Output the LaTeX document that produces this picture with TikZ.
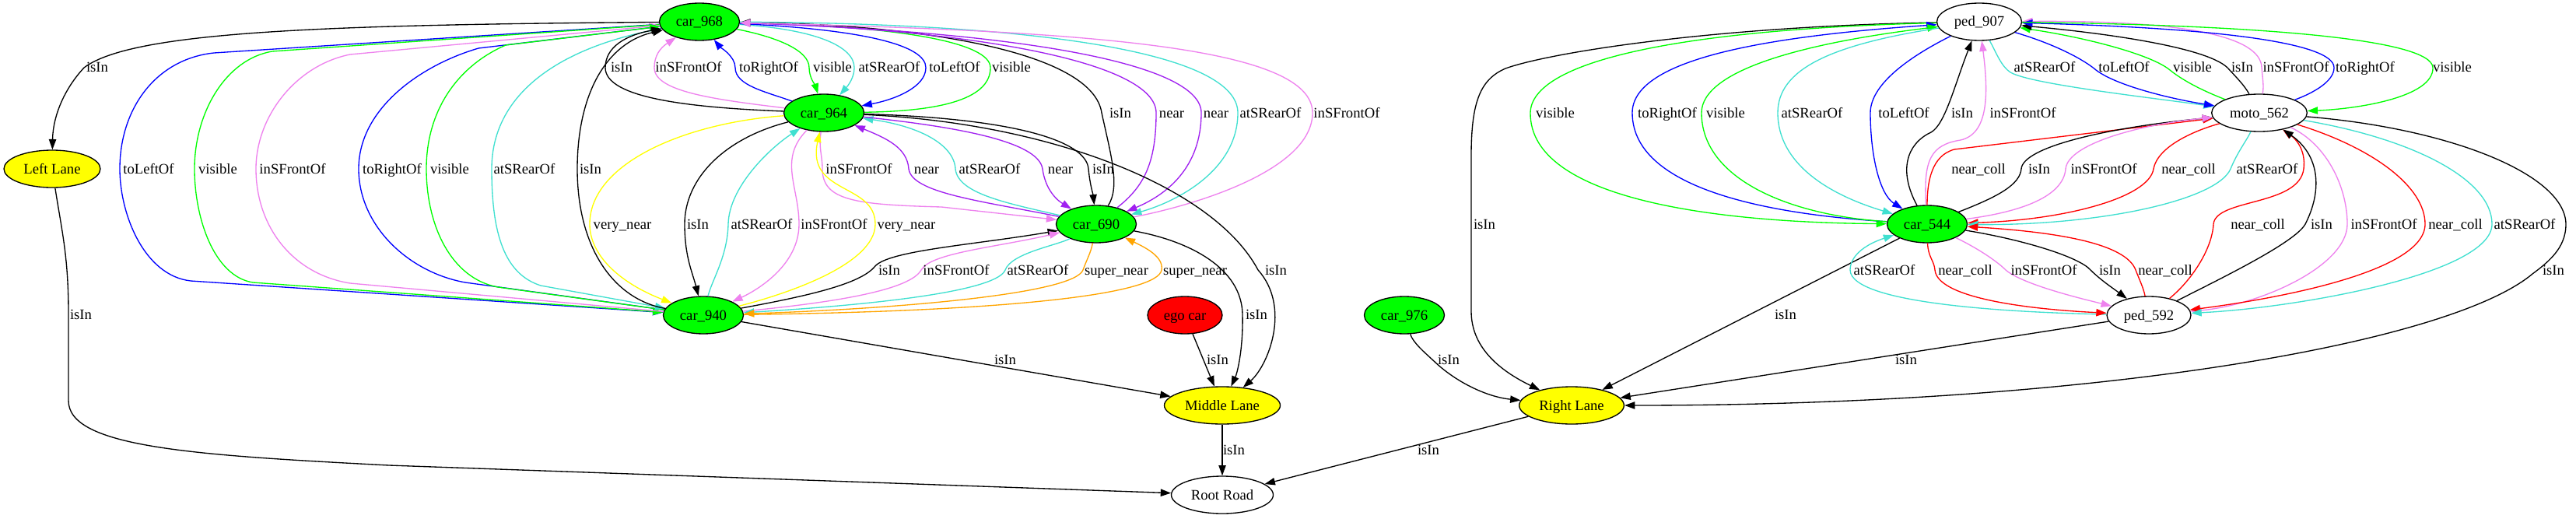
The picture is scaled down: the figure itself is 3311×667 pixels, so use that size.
\documentclass[tikz,border=0pt]{standalone}
\usepackage{fontspec}
\setmainfont{Liberation Serif}
\usetikzlibrary{arrows.meta,shapes.geometric}
\definecolor{gvgreen}{HTML}{00FF00}
\definecolor{gvviolet}{HTML}{EE82EE}
\definecolor{gvturq}{HTML}{40E0D0}
\definecolor{gvpurple}{HTML}{A020F0}
\definecolor{gvyellow}{HTML}{FFFF00}
\definecolor{gvorange}{HTML}{FFA500}
\definecolor{gvred}{HTML}{FF0000}
\definecolor{gvblue}{HTML}{0000FF}
\tikzset{
  gnode/.style={ellipse, draw=black, line width=1pt, inner sep=0pt, minimum height=36pt,
    font=\fontsize{14}{16}\selectfont, text height=10pt, text depth=1pt},
  lbl/.style={inner sep=0pt, text=black, font=\fontsize{14}{16}\selectfont, text height=10pt, text depth=1pt},
  fw/.style={line width=1pt, -{Triangle[length=10pt,width=7pt]}},
  bw/.style={line width=1pt, {Triangle[length=10pt,width=7pt]}-},
  cb/.style={draw=gvblue}, cg/.style={draw=gvgreen}, cv/.style={draw=gvviolet},
  ct/.style={draw=gvturq}, cp/.style={draw=gvpurple}, cy/.style={draw=gvyellow},
  co/.style={draw=gvorange}, cr/.style={draw=gvred}
}
\begin{document}
\begin{tikzpicture}[x=0.75pt,y=-0.75pt]
\fill[white] (0,0) rectangle (3311,667);
\useasboundingbox (0,0) rectangle (3311,667);
% nodes
\node[gnode, fill=gvgreen, minimum width=77.25pt] (car968) at (899,28) {car\_968};
\node[gnode, fill=gvgreen, minimum width=77.25pt] (car964) at (1059,145) {car\_964};
\node[gnode, fill=gvgreen, minimum width=77.25pt] (car690) at (1409,288) {car\_690};
\node[gnode, fill=gvgreen, minimum width=77.25pt] (car940) at (904,405) {car\_940};
\node[gnode, fill=gvyellow, minimum width=93pt] (leftlane) at (67,217) {Left Lane};
\node[gnode, fill=gvred, minimum width=72pt] (ego) at (1523,405) {ego car};
\node[gnode, fill=gvyellow, minimum width=111.75pt] (middle) at (1571,521) {Middle Lane};
\node[gnode, fill=white, minimum width=98.25pt] (root) at (1571,636) {Root Road};
\node[gnode, fill=gvgreen, minimum width=77.25pt] (car976) at (1805,405) {car\_976};
\node[gnode, fill=gvyellow, minimum width=101pt] (right) at (2020,521) {Right Lane};
\node[gnode, fill=white, minimum width=81.75pt] (ped907) at (2544,28) {ped\_907};
\node[gnode, fill=white, minimum width=92pt] (moto) at (2904,145) {moto\_562};
\node[gnode, fill=gvgreen, minimum width=77.25pt] (car544) at (2477,288) {car\_544};
\node[gnode, fill=white, minimum width=81pt] (ped592) at (2762,405) {ped\_592};

% ---- left cluster ----
\draw[fw] (car968) .. controls (420,32) and (170,40) .. (108,87) .. controls (82,115) and (68,150) .. (leftlane) node[lbl] at (125,87) {isIn};
\draw[fw] (leftlane) .. controls (80,300) and (88,330) .. (88,404) -- (88,515) .. controls (88,575) and (250,585) .. (500,598) -- (root) node[lbl] at (104,404) {isIn};

% car968 <-> car940
\draw[fw,cb] (car968) -- (275,68) .. controls (200,76) and (154,140) .. (154,217) .. controls (154,275) and (185,354) .. (245,361) -- (car940) node[lbl] at (191,217) {toLeftOf};
\draw[fw,cg] (car968) -- (350,66) .. controls (290,76) and (250,145) .. (250,217) .. controls (250,280) and (275,355) .. (325,363) -- (car940) node[lbl] at (280,217) {visible};
\draw[bw,cv] (car968) -- (450,70) .. controls (380,84) and (329,150) .. (329,217) .. controls (329,290) and (375,352) .. (450,364) -- (car940) node[lbl] at (376,217) {inSFrontOf};
\draw[bw,cb] (car968) -- (615,62) .. controls (540,84) and (461,140) .. (461,217) .. controls (461,290) and (525,350) .. (598,363) -- (car940) node[lbl] at (504,217) {toRightOf};
\draw[bw,cg] (car968) -- (650,58) .. controls (590,84) and (548,140) .. (548,217) .. controls (548,290) and (580,358) .. (640,369) -- (car940) node[lbl] at (578,217) {visible};
\draw[fw,ct] (car968) .. controls (720,60) and (632,120) .. (632,217) .. controls (632,300) and (648,352) .. (695,367) -- (car940) node[lbl] at (674,217) {atSRearOf};
\draw[fw] (car940) .. controls (790,385) and (742,320) .. (742,217) .. controls (742,120) and (780,55) .. (car968) node[lbl] at (759,217) {isIn};

% car968 <-> car964
\draw[fw] (car964) .. controls (880,138) and (778,125) .. (778,87) .. controls (778,60) and (805,45) .. (car968) node[lbl] at (799,87) {isIn};
\draw[fw,cv] (car964) .. controls (920,128) and (841,118) .. (841,87) .. controls (841,72) and (848,62) .. (car968) node[lbl] at (885,87) {inSFrontOf};
\draw[fw,cb] (car964) .. controls (985,118) and (945,110) .. (945,87) .. controls (945,72) and (925,60) .. (car968) node[lbl] at (988,87) {toRightOf};
\draw[fw,cg] (car968) .. controls (1000,48) and (1040,65) .. (1040,87) .. controls (1040,100) and (1048,110) .. (car964) node[lbl] at (1070,87) {visible};
\draw[fw,ct] (car968) .. controls (1050,38) and (1098,60) .. (1098,87) .. controls (1098,100) and (1090,110) .. (car964) node[lbl] at (1143,87) {atSRearOf};
\draw[fw,cb] (car968) .. controls (1110,38) and (1190,58) .. (1190,87) .. controls (1190,112) and (1150,128) .. (car964) node[lbl] at (1227,87) {toLeftOf};
\draw[bw,cg] (car968) .. controls (1160,34) and (1273,55) .. (1273,87) .. controls (1273,130) and (1200,143) .. (car964) node[lbl] at (1300,87) {visible};

% car968 <-> car690
\draw[bw] (car968) .. controls (1200,32) and (1405,70) .. (1416,145) .. controls (1428,200) and (1440,240) .. (car690) node[lbl] at (1440,145) {isIn};
\draw[bw,cp] (car968) .. controls (1250,38) and (1486,80) .. (1486,145) .. controls (1486,210) and (1470,240) .. (car690) node[lbl] at (1506,145) {near};
\draw[fw,cp] (car968) .. controls (1300,40) and (1544,80) .. (1544,145) .. controls (1544,215) and (1500,250) .. (car690) node[lbl] at (1563,145) {near};
\draw[fw,ct] (car968) .. controls (1350,30) and (1591,70) .. (1591,145) .. controls (1591,220) and (1510,260) .. (car690) node[lbl] at (1633,145) {atSRearOf};
\draw[bw,cv] (car968) .. controls (1400,40) and (1687,60) .. (1687,145) .. controls (1687,220) and (1530,265) .. (car690) node[lbl] at (1731,145) {inSFrontOf};

% car964 <-> car690
\draw[fw,cv] (car964) .. controls (1052,190) and (1057,200) .. (1057,217) .. controls (1057,258) and (1100,263) .. (1210,266) -- (car690) node[lbl] at (1104,217) {inSFrontOf};
\draw[bw,cp] (car964) .. controls (1140,178) and (1166,190) .. (1168,217) .. controls (1172,248) and (1260,258) .. (car690) node[lbl] at (1191,217) {near};
\draw[bw,ct] (car964) .. controls (1180,162) and (1226,185) .. (1228,217) .. controls (1231,250) and (1300,262) .. (car690) node[lbl] at (1272,217) {atSRearOf};
\draw[fw,cp] (car964) .. controls (1250,165) and (1335,185) .. (1340,217) .. controls (1343,240) and (1355,255) .. (car690) node[lbl] at (1363,217) {near};
\draw[fw] (car964) .. controls (1300,152) and (1396,180) .. (1399,217) .. controls (1401,238) and (1405,250) .. (car690) node[lbl] at (1418,217) {isIn};

% to middle lane
\draw[fw] (car964) .. controls (1350,158) and (1560,240) .. (1617,347) .. controls (1660,395) and (1630,470) .. (middle) node[lbl] at (1640,347) {isIn};
\draw[fw] (car690) .. controls (1530,310) and (1596,345) .. (1597,404) .. controls (1598,450) and (1590,480) .. (middle) node[lbl] at (1615,404) {isIn};

% car964 <-> car940
\draw[fw,cy] (car964) .. controls (880,158) and (758,210) .. (758,288) .. controls (758,330) and (800,365) .. (car940) node[lbl] at (800,288) {very\_near};
\draw[fw] (car964) .. controls (930,178) and (880,230) .. (880,288) .. controls (880,330) and (890,350) .. (car940) node[lbl] at (897,288) {isIn};
\draw[bw,ct] (car964) .. controls (990,190) and (937,240) .. (936,288) .. controls (935,330) and (915,360) .. (car940) node[lbl] at (979,288) {atSRearOf};
\draw[fw,cv] (car964) .. controls (1000,205) and (1027,240) .. (1027,288) .. controls (1027,340) and (975,372) .. (car940) node[lbl] at (1072,288) {inSFrontOf};
\draw[bw,cy] (car964) .. controls (1036,250) and (1125,235) .. (1125,288) .. controls (1125,340) and (1010,378) .. (car940) node[lbl] at (1165,288) {very\_near};

% car940 <-> car690
\draw[fw] (car940) .. controls (1040,380) and (1105,365) .. (1124,343) .. controls (1140,322) and (1250,315) .. (car690) node[lbl] at (1143,347) {isIn};
\draw[fw,cv] (car940) .. controls (1080,388) and (1170,372) .. (1184,347) .. controls (1196,325) and (1280,318) .. (car690) node[lbl] at (1229,347) {inSFrontOf};
\draw[bw,ct] (car940) .. controls (1150,390) and (1282,372) .. (1292,347) .. controls (1300,325) and (1360,315) .. (car690) node[lbl] at (1334,347) {atSRearOf};
\draw[bw,co] (car940) .. controls (1150,397) and (1380,378) .. (1392,347) .. controls (1397,333) and (1402,325) .. (car690) node[lbl] at (1435,347) {super\_near};
\draw[fw,co] (car940) .. controls (1300,400) and (1488,378) .. (1493,347) .. controls (1496,330) and (1472,318) .. (car690) node[lbl] at (1536,347) {super\_near};

% lower part
\draw[fw] (car940) -- (middle) node[lbl] at (1292,462) {isIn};
\draw[fw] (ego) -- (middle) node[lbl] at (1565,462) {isIn};
\draw[fw] (middle) -- (root) node[lbl] at (1586,578) {isIn};
\draw[fw] (right) -- (root) node[lbl] at (1836,578) {isIn};
\draw[fw] (car976) .. controls (1816,440) and (1830,452) .. (1843,464) .. controls (1870,490) and (1910,510) .. (right) node[lbl] at (1862,462) {isIn};
\draw[fw] (ped907) .. controls (2200,34) and (1990,68) .. (1935,88) .. controls (1903,102) and (1891,130) .. (1891,200) -- (1891,400) .. controls (1891,445) and (1925,475) .. (right) node[lbl] at (1908,288) {isIn};

% ---- right cluster ----
% ped907 <-> car544
\draw[fw,cg] (ped907) .. controls (2150,38) and (1968,80) .. (1967,145) .. controls (1966,255) and (2200,286) .. (car544) node[lbl] at (1999,145) {visible};
\draw[bw,cb] (ped907) .. controls (2250,48) and (2098,80) .. (2098,145) .. controls (2098,250) and (2300,277) .. (car544) node[lbl] at (2143,145) {toRightOf};
\draw[bw,cg] (ped907) .. controls (2320,55) and (2187,90) .. (2187,145) .. controls (2187,230) and (2300,277) .. (car544) node[lbl] at (2218,145) {visible};
\draw[fw,ct] (ped907) .. controls (2350,58) and (2285,90) .. (2285,145) .. controls (2285,210) and (2350,250) .. (car544) node[lbl] at (2329,145) {atSRearOf};
\draw[fw,cb] (ped907) .. controls (2450,75) and (2404,110) .. (2404,145) .. controls (2404,200) and (2416,250) .. (car544) node[lbl] at (2447,145) {toLeftOf};
\draw[fw] (car544) .. controls (2440,220) and (2450,185) .. (2482,170) .. controls (2500,160) and (2512,110) .. (ped907) node[lbl] at (2522,145) {isIn};
\draw[fw,cv] (car544) .. controls (2472,205) and (2482,186) .. (2520,180) .. controls (2556,172) and (2556,120) .. (ped907) node[lbl] at (2600,145) {inSFrontOf};

% ped907 <-> moto
\draw[fw,ct] (ped907) .. controls (2566,68) and (2572,85) .. (2584,93) .. controls (2610,108) and (2760,125) .. (moto) node[lbl] at (2628,87) {atSRearOf};
\draw[fw,cb] (ped907) .. controls (2645,58) and (2680,78) .. (2694,90) .. controls (2720,110) and (2790,127) .. (moto) node[lbl] at (2730,87) {toLeftOf};
\draw[bw,cg] (ped907) .. controls (2680,48) and (2765,70) .. (2789,90) .. controls (2810,107) and (2840,120) .. (moto) node[lbl] at (2818,87) {visible};
\draw[bw] (ped907) .. controls (2700,42) and (2835,60) .. (2863,87) .. controls (2875,100) and (2885,110) .. (moto) node[lbl] at (2882,87) {isIn};
\draw[bw,cv] (ped907) .. controls (2800,26) and (2906,45) .. (2907,87) .. controls (2908,100) and (2910,110) .. (moto) node[lbl] at (2951,87) {inSFrontOf};
\draw[bw,cb] (ped907) .. controls (2850,36) and (3000,55) .. (3000,87) .. controls (3000,105) and (2972,120) .. (moto) node[lbl] at (3040,87) {toRightOf};
\draw[fw,cg] (ped907) .. controls (2900,32) and (3126,50) .. (3127,87) .. controls (3128,125) and (3030,140) .. (moto) node[lbl] at (3152,87) {visible};

% car544 <-> moto
\draw[fw,cr] (car544) .. controls (2477,235) and (2482,200) .. (2512,192) -- (moto) node[lbl] at (2543,217) {near\_coll};
\draw[fw] (car544) .. controls (2570,252) and (2596,237) .. (2598,217) .. controls (2600,190) and (2700,165) .. (moto) node[lbl] at (2621,217) {isIn};
\draw[fw,cv] (car544) .. controls (2600,272) and (2652,252) .. (2655,217) .. controls (2658,185) and (2750,160) .. (moto) node[lbl] at (2704,217) {inSFrontOf};
\draw[bw,cr] (car544) .. controls (2650,283) and (2762,255) .. (2768,217) .. controls (2774,185) and (2830,165) .. (moto) node[lbl] at (2813,217) {near\_coll};
\draw[bw,ct] (car544) .. controls (2700,290) and (2850,257) .. (2867,217) .. controls (2876,195) and (2888,180) .. (moto) node[lbl] at (2914,217) {atSRearOf};

% car544 <-> ped592
\draw[fw] (car544) -- (right) node[lbl] at (2295,404) {isIn};
\draw[bw,ct] (car544) .. controls (2395,315) and (2378,330) .. (2378,347) .. controls (2379,392) and (2600,402) .. (ped592) node[lbl] at (2422,347) {atSRearOf};
\draw[fw,cr] (car544) .. controls (2478,330) and (2486,335) .. (2487,347) .. controls (2490,382) and (2600,397) .. (ped592) node[lbl] at (2526,347) {near\_coll};
\draw[fw,cv] (car544) .. controls (2540,318) and (2566,335) .. (2578,347) .. controls (2600,366) and (2680,385) .. (ped592) node[lbl] at (2627,347) {inSFrontOf};
\draw[fw] (car544) .. controls (2600,308) and (2672,330) .. (2687,347) .. controls (2700,360) and (2718,372) .. (ped592) node[lbl] at (2712,347) {isIn};
\draw[bw,cr] (car544) .. controls (2640,298) and (2732,312) .. (2745,347) .. controls (2750,360) and (2755,370) .. (ped592) node[lbl] at (2783,347) {near\_coll};
\draw[fw] (ped592) -- (right) node[lbl] at (2450,462) {isIn};

% ped592 <-> moto
\draw[fw,cr] (ped592) .. controls (2815,362) and (2843,322) .. (2845,288) .. controls (2848,255) and (2955,265) .. (2961,217) .. controls (2964,192) and (2950,178) .. (moto) node[lbl] at (2902,288) {near\_coll};
\draw[fw] (ped592) .. controls (2850,360) and (2950,312) .. (2963,288) .. controls (2985,245) and (2982,200) .. (moto) node[lbl] at (2984,288) {isIn};
\draw[fw,cv] (moto) .. controls (2990,185) and (3017,240) .. (3017,288) .. controls (3017,342) and (2905,392) .. (ped592) node[lbl] at (3064,288) {inSFrontOf};
\draw[fw,cr] (moto) .. controls (3050,190) and (3117,240) .. (3117,288) .. controls (3117,352) and (2910,386) .. (ped592) node[lbl] at (3156,288) {near\_coll};
\draw[fw,ct] (moto) .. controls (3100,178) and (3203,230) .. (3203,288) .. controls (3203,352) and (2950,396) .. (ped592) node[lbl] at (3245,288) {atSRearOf};
\draw[fw] (moto) .. controls (3150,165) and (3300,225) .. (3298,290) .. controls (3297,318) and (3278,335) .. (3255,352) .. controls (3150,440) and (2700,521) .. (right) node[lbl] at (3282,347) {isIn};
\end{tikzpicture}
\end{document}
